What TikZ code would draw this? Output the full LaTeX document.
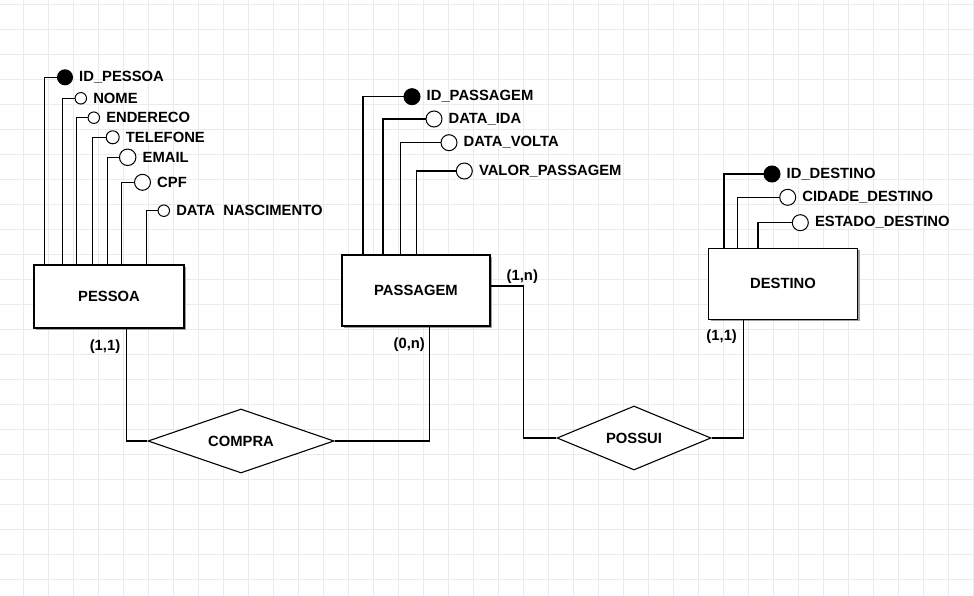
\documentclass[tikz,border=0pt]{standalone}
\usepackage{fontspec}
\setmainfont{Liberation Sans}
\usepackage{tikz}
\usetikzlibrary{positioning,shapes.geometric,shadows}
\definecolor{gridblue}{RGB}{228,236,244}
\tikzstyle{entity}=[rectangle,draw=black,fill=white,line width=1.2pt,
                    drop shadow={shadow xshift=2.2pt,shadow yshift=-2.2pt,
                                 fill=gray!75,opacity=1}]
\tikzstyle{relation}=[diamond,draw=black,fill=white,line width=1.1pt,
                      aspect=2.9,inner sep=0pt,minimum height=64pt]
\tikzstyle{keydot}=[circle,draw=black,fill=black,line width=1pt,
                    inner sep=0pt,minimum size=15pt]
\tikzstyle{attrdot}=[circle,draw=black,fill=white,line width=1pt,
                     inner sep=0pt,minimum size=16pt]
\tikzstyle{smalldot}=[attrdot,minimum size=11.5pt]
\tikzstyle{attrtext}=[inner sep=1pt,anchor=west]
\tikzstyle{card}=[inner sep=1pt]
\tikzstyle{link}=[line width=1.2pt,draw=black]

\begin{document}
\begin{tikzpicture}[x=1pt,y=-1pt,font=\fontsize{14.8}{16}\selectfont\bfseries]
    \useasboundingbox (0,0) rectangle (974,596);
    \fill[white] (0,0) rectangle (974,596);
    \foreach \gx in {23,48,...,973} \draw[gridblue,line width=0.9pt] (\gx,0) -- (\gx,596);
    \foreach \gy in {4,29,...,595} \draw[gridblue,line width=0.9pt] (0,\gy) -- (974,\gy);

    % entidades
    \node (pessoa) at (109,296.5) [entity,minimum width=150pt,minimum height=63pt]{PESSOA};
    \node (passagem) at (416,290.5) [entity,minimum width=148pt,minimum height=71pt]{PASSAGEM};
    \node (destino) at (783,283.7) [entity,minimum width=149pt,minimum height=71pt]{DESTINO};

    % relacionamentos
    \node (compra) at (241,441) [relation,minimum width=186pt]{COMPRA};
    \node (possui) at (634,438) [relation,minimum width=154pt]{POSSUI};

    % atributos de PESSOA
    \node (idpessoa) at (65,77.3) [keydot]{};
    \node (nome) at (80.8,98.3) [smalldot]{};
    \node (endereco) at (93.8,117.7) [smalldot]{};
    \node (telefone) at (112.7,137.3) [attrdot,minimum size=13pt]{};
    \node (email) at (127.7,157.3) [attrdot,minimum size=16.5pt]{};
    \node (cpf) at (142.5,182.3) [attrdot]{};
    \node (nasc) at (163.8,210.7) [smalldot]{};
    \node (tidpessoa) [attrtext,right=5pt of idpessoa]{ID\_PESSOA};
    \node (tnome) [attrtext,right=5pt of nome]{NOME};
    \node (tendereco) [attrtext,right=5pt of endereco]{ENDERECO};
    \node (ttelefone) [attrtext,right=5pt of telefone]{TELEFONE};
    \node (temail) [attrtext,right=5pt of email]{EMAIL};
    \node (tcpf) [attrtext,right=5pt of cpf]{CPF};
    \node (tnasc) [attrtext,right=5pt of nasc]{DATA\ \ NASCIMENTO};
    \draw[link] (idpessoa.west) -| ([xshift=10.7pt]pessoa.north west);
    \draw[link] (nome.west) -| ([xshift=28.7pt]pessoa.north west);
    \draw[link] (endereco.west) -| ([xshift=42.7pt]pessoa.north west);
    \draw[link] (telefone.west) -| ([xshift=59.3pt]pessoa.north west);
    \draw[link] (email.west) -| ([xshift=73.7pt]pessoa.north west);
    \draw[link] (cpf.west) -| ([xshift=87.7pt]pessoa.north west);
    \draw[link] (nasc.west) -| ([xshift=112.7pt]pessoa.north west);

    % atributos de PASSAGEM
    \node (idpassagem) at (412,96.7) [keydot,minimum size=16pt]{};
    \node (dataida) at (434,119) [attrdot]{};
    \node (datavolta) at (449,142.7) [attrdot]{};
    \node (valor) at (464.3,171) [attrdot]{};
    \node (tidpassagem) [attrtext,right=5pt of idpassagem]{ID\_PASSAGEM};
    \node (tdataida) [attrtext,right=5pt of dataida]{DATA\_IDA};
    \node (tdatavolta) [attrtext,right=5pt of datavolta]{DATA\_VOLTA};
    \node (tvalor) [attrtext,right=5pt of valor]{VALOR\_PASSAGEM};
    \draw[link] (idpassagem.west) -| ([xshift=21.6pt]passagem.north west);
    \draw[link] (dataida.west) -| ([xshift=41.6pt]passagem.north west);
    \draw[link] (datavolta.west) -| ([xshift=59.3pt]passagem.north west);
    \draw[link] (valor.west) -| ([xshift=75pt]passagem.north west);

    % atributos de DESTINO
    \node (iddestino) at (772,174) [keydot,minimum size=16pt]{};
    \node (cidade) at (787.7,197.3) [attrdot]{};
    \node (estado) at (800.3,222.7) [attrdot]{};
    \node (tiddestino) [attrtext,right=5pt of iddestino]{ID\_DESTINO};
    \node (tcidade) [attrtext,right=5pt of cidade]{CIDADE\_DESTINO};
    \node (testado) [attrtext,right=5pt of estado]{ESTADO\_DESTINO};
    \draw[link] (iddestino.west) -| ([xshift=16pt]destino.north west);
    \draw[link] (cidade.west) -| ([xshift=29.4pt]destino.north west);
    \draw[link] (estado.west) -| ([xshift=50pt]destino.north west);

    % ligacoes
    \draw[link] ([xshift=17.5pt]pessoa.south) |- (compra.west);
    \draw[link] (compra.east) -| ([xshift=13.3pt]passagem.south);
    \draw[link] ([yshift=4.5pt]passagem.east) -- ++(33,0) |- (possui.west);
    \draw[link] (possui.east) -| ([xshift=-39.7pt]destino.south);

    % cardinalidades
    \node (c11a) at (105,346.7) [card]{(1,1)};
    \node (c0n) at (409.3,345) [card]{(0,n)};
    \node (c1n) at (522.3,276.7) [card]{(1,n)};
    \node (c11b) at (721.7,336.7) [card]{(1,1)};
\end{tikzpicture}
\end{document}
